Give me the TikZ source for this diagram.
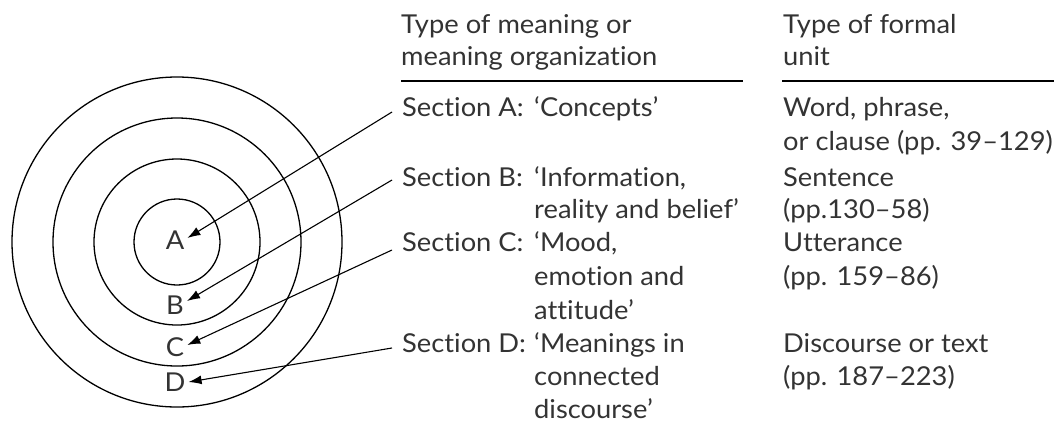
\documentclass[tikz,border=0pt]{standalone}
\usepackage{fontspec}
\setmainfont{Lato}[Ligatures={NoCommon,NoRare},FakeStretch=1.05]
\usetikzlibrary{arrows.meta,calc}
\definecolor{txt}{HTML}{333333}
\tikzset{
  lbl/.style={anchor=base west,inner sep=0pt,text=txt,font=\fontsize{26}{30}\selectfont},
  ring/.style={draw=black,line width=1.3pt},
  letter/.style={inner sep=3pt,text=txt,font=\fontsize{26}{30}\selectfont},
  rulel/.style={draw=black,line width=1.4pt},
  pointer/.style={draw=black,line width=1.1pt,-{Latex[length=13pt,width=9pt]}}
}
\begin{document}
\begin{tikzpicture}[x=1pt,y=-1pt]
\useasboundingbox (0,0) rectangle (1054,424);
% circles
\foreach \r in {43,83,124,165} \draw[ring] (177,242) circle[radius=\r];
\node[letter] (A) at (175,240) {A};
\node[letter] (B) at (175,305) {B};
\node[letter] (C) at (175,347) {C};
\node[letter] (D) at (175,382) {D};
% headers
\node[lbl] (h1a) at (401,33) {Type of meaning or};
\node[lbl] (h1b) at (401,65) {meaning organization};
\node[lbl] (h2a) at (783,33) {Type of formal};
\node[lbl] (h2b) at (783,65) {unit};
\coordinate (r1s) at (401,81); \coordinate (r1e) at (743,81);
\coordinate (r2s) at (782,81); \coordinate (r2e) at (1054,81);
\draw[rulel] (r1s) -- (r1e);
\draw[rulel] (r2s) -- (r2e);
% column 1
\node[lbl] (secA) at (402,116) {Section A:};
\node[lbl] (qA1) at (534,116) {‘Concepts’};
\node[lbl] (secB) at (402,186) {Section B:};
\node[lbl] (qB1) at (534,186) {‘Information,};
\node[lbl] (qB2) at (534,218) {reality and belief’};
\node[lbl] (secC) at (402,251) {Section C:};
\node[lbl] (qC1) at (534,251) {‘Mood,};
\node[lbl] (qC2) at (534,285) {emotion and};
\node[lbl] (qC3) at (534,319) {attitude’};
\node[lbl] (secD) at (402,352) {Section D:};
\node[lbl] (qD1) at (534,352) {‘Meanings in};
\node[lbl] (qD2) at (534,385) {connected};
\node[lbl] (qD3) at (534,418) {discourse’};
% column 2
\node[lbl] (uA1) at (783,116) {Word, phrase,};
\node[lbl] (uA2) at (783,150) {or clause (pp. 39–129)};
\node[lbl] (uB1) at (783,186) {Sentence};
\node[lbl] (uB2) at (783,218) {(pp.130–58)};
\node[lbl] (uC1) at (783,251) {Utterance};
\node[lbl] (uC2) at (783,285) {(pp. 159–86)};
\node[lbl] (uD1) at (783,352) {Discourse or text};
\node[lbl] (uD2) at (783,385) {(pp. 187–223)};
% arrows
\draw[pointer] ($(secA.base west)+(-10,-4)$) -- ([yshift=2pt]A.east);
\draw[pointer] ($(secB.base west)+(-10,-6)$) -- ([yshift=4pt]B.east);
\draw[pointer] ($(secC.base west)+(-10,-1)$) -- ([yshift=2pt]C.east);
\draw[pointer] ($(secD.base west)+(-10,-4)$) -- (D.east);
\end{tikzpicture}
\end{document}
